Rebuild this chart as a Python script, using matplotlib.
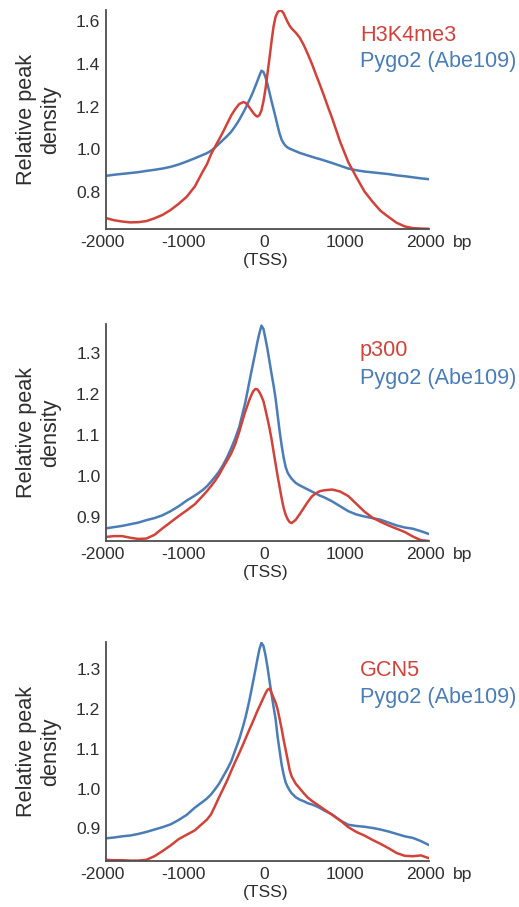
import matplotlib
matplotlib.use("Agg")
import matplotlib.pyplot as plt
from matplotlib.transforms import ScaledTranslation

plt.rcParams['font.family'] = ['Liberation Sans', 'DejaVu Sans']

# Distance from the transcription start site (bp)
x_bp = [-2000, -1900, -1800, -1700, -1600, -1500, -1400, -1300, -1200, -1100, -1000, -900, -800,
        -750, -700, -650, -600, -550, -500, -450, -400, -350, -300,
        -275, -250, -225, -200, -175, -150, -125, -100, -75, -50, -25, 0, 25, 50, 75, 100,
        125, 150, 175, 200, 225, 250, 275,
        300, 350, 400, 450, 500, 550, 600, 650, 700, 750,
        800, 900, 1000, 1100, 1200, 1300, 1400, 1500, 1600, 1700, 1800, 1900, 2000]

# Relative peak density profiles
h3k4me3 = [0.678, 0.668, 0.662, 0.658, 0.659, 0.664, 0.677, 0.693, 0.716, 0.745, 0.778, 0.826, 0.897,
           0.930, 0.976, 1.012, 1.046, 1.082, 1.120, 1.158, 1.188, 1.212, 1.221,
           1.218, 1.210, 1.196, 1.183, 1.170, 1.159, 1.153, 1.160, 1.182, 1.225, 1.282, 1.355,
           1.428, 1.505, 1.575, 1.620, 1.641, 1.650, 1.648, 1.636, 1.615, 1.595, 1.578,
           1.565, 1.546, 1.522, 1.487, 1.445, 1.400, 1.350, 1.301, 1.250, 1.197,
           1.146, 1.035, 0.940, 0.870, 0.803, 0.755, 0.712, 0.683, 0.656, 0.639, 0.631, 0.629, 0.628]

pygo2_vs_h3k4me3 = [0.876, 0.881, 0.885, 0.889, 0.893, 0.899, 0.904, 0.910, 0.918, 0.929, 0.943, 0.958, 0.974,
                    0.982, 0.993, 1.008, 1.026, 1.044, 1.062, 1.082, 1.108, 1.138, 1.172,
                    1.190, 1.210, 1.230, 1.250, 1.272, 1.296, 1.320, 1.345, 1.368, 1.362, 1.338, 1.305,
                    1.265, 1.225, 1.188, 1.150, 1.110, 1.073, 1.045, 1.028, 1.016, 1.008, 1.003,
                    0.999, 0.991, 0.983, 0.977, 0.971, 0.965, 0.959, 0.954, 0.948, 0.942,
                    0.936, 0.923, 0.910, 0.902, 0.896, 0.892, 0.888, 0.884, 0.878, 0.874, 0.869, 0.864, 0.860]

p300 = [0.851, 0.853, 0.853, 0.849, 0.846, 0.847, 0.856, 0.872, 0.887, 0.902, 0.916, 0.931, 0.952,
        0.963, 0.975, 0.988, 1.003, 1.021, 1.038, 1.055, 1.078, 1.108, 1.142,
        1.158, 1.172, 1.186, 1.198, 1.208, 1.213, 1.212, 1.205, 1.195, 1.183, 1.162, 1.140,
        1.117, 1.090, 1.060, 1.030, 1.000, 0.973, 0.946, 0.922, 0.905, 0.894, 0.887,
        0.885, 0.893, 0.907, 0.922, 0.937, 0.950, 0.958, 0.963, 0.965, 0.966,
        0.967, 0.962, 0.951, 0.932, 0.913, 0.898, 0.888, 0.879, 0.871, 0.863, 0.852, 0.843, 0.841]

pygo2_vs_p300 = [0.872, 0.875, 0.878, 0.882, 0.886, 0.892, 0.897, 0.904, 0.914, 0.926, 0.940, 0.952, 0.966,
                 0.975, 0.986, 0.998, 1.011, 1.027, 1.046, 1.068, 1.092, 1.120, 1.160,
                 1.180, 1.205, 1.230, 1.255, 1.279, 1.303, 1.328, 1.350, 1.368, 1.360, 1.336, 1.310,
                 1.280, 1.250, 1.222, 1.190, 1.150, 1.110, 1.075, 1.045, 1.022, 1.008, 1.000,
                 0.993, 0.983, 0.977, 0.972, 0.967, 0.962, 0.957, 0.952, 0.948, 0.943,
                 0.938, 0.926, 0.914, 0.906, 0.901, 0.897, 0.893, 0.886, 0.879, 0.874, 0.871, 0.865, 0.858]

gcn5 = [0.821, 0.820, 0.820, 0.819, 0.819, 0.821, 0.830, 0.843, 0.857, 0.873, 0.884, 0.895, 0.913,
        0.922, 0.935, 0.956, 0.978, 0.999, 1.020, 1.044, 1.067, 1.089, 1.112,
        1.124, 1.136, 1.148, 1.159, 1.171, 1.183, 1.195, 1.206, 1.217, 1.228, 1.239, 1.248,
        1.251, 1.240, 1.228, 1.216, 1.199, 1.175, 1.150, 1.122, 1.097, 1.072, 1.046,
        1.030, 1.012, 1.000, 0.988, 0.977, 0.969, 0.962, 0.955, 0.948, 0.941,
        0.934, 0.920, 0.903, 0.891, 0.882, 0.871, 0.861, 0.850, 0.838, 0.831, 0.830, 0.832, 0.825]

pygo2_vs_gcn5 = [0.875, 0.877, 0.880, 0.882, 0.886, 0.891, 0.897, 0.903, 0.910, 0.921, 0.934, 0.952, 0.967,
                 0.975, 0.985, 0.998, 1.012, 1.030, 1.048, 1.068, 1.096, 1.124, 1.158,
                 1.177, 1.198, 1.221, 1.246, 1.272, 1.298, 1.325, 1.350, 1.366, 1.358, 1.335, 1.305,
                 1.270, 1.237, 1.205, 1.175, 1.130, 1.095, 1.060, 1.035, 1.015, 1.004, 0.995,
                 0.988, 0.978, 0.972, 0.968, 0.963, 0.960, 0.956, 0.951, 0.945, 0.940,
                 0.935, 0.920, 0.909, 0.906, 0.904, 0.901, 0.897, 0.892, 0.886, 0.880, 0.876, 0.868, 0.858]

x_ticks = [-2000, -1000, 0, 1000, 2000]
x_tick_labels = ['-2000', '-1000', '0', '1000', '2000']
mark_names = ['H3K4me3', 'p300', 'GCN5']
pygo2_name = 'Pygo2 (Abe109)'

W, H = 519, 907
fig = plt.figure(figsize=(W / 100, H / 100), dpi=100)

RED = '#d1433a'
BLUE = '#4a7cb6'
AXIS = '#4d4d4d'
TEXT = '#2e2e2e'

# panel geometry in pixels: (top, bottom) of the axes box, y-limits, y-ticks, legend baselines
panels = [
    dict(top=10, bottom=229, ylim=(0.627, 1.652), yticks=[0.8, 1.0, 1.2, 1.4, 1.6],
         red=h3k4me3, blue=pygo2_vs_h3k4me3, legend=(41, 67)),
    dict(top=324, bottom=541, ylim=(0.841, 1.372), yticks=[0.9, 1.0, 1.1, 1.2, 1.3],
         red=p300, blue=pygo2_vs_p300, legend=(356, 384)),
    dict(top=642, bottom=861, ylim=(0.818, 1.368), yticks=[0.9, 1.0, 1.1, 1.2, 1.3],
         red=gcn5, blue=pygo2_vs_gcn5, legend=(676, 703)),
]

left_px, right_px = 106, 429
tick_fs = 12.6
big_fs = 15.6
shift_left = ScaledTranslation(-3.5 / 100, 0, fig.dpi_scale_trans)

for name, p in zip(mark_names, panels):
    rect = [left_px / W, 1 - p['bottom'] / H, (right_px - left_px) / W, (p['bottom'] - p['top']) / H]
    ax = fig.add_axes(rect)
    ax.plot(x_bp, p['blue'], color=BLUE, lw=1.8, solid_capstyle='round')
    ax.plot(x_bp, p['red'], color=RED, lw=1.8, solid_capstyle='round')
    ax.set_xlim(-2000, 2000)
    ax.set_ylim(*p['ylim'])
    ax.set_yticks(p['yticks'])
    ax.set_yticklabels([f'{v:.1f}' for v in p['yticks']])
    ax.set_xticks(x_ticks)
    ax.set_xticklabels(x_tick_labels)
    ax.tick_params(length=0, pad=4, labelsize=tick_fs, labelcolor=TEXT)
    for lab in ax.get_xticklabels():
        lab.set_transform(lab.get_transform() + shift_left)
    for side in ('top', 'right'):
        ax.spines[side].set_visible(False)
    for side in ('left', 'bottom'):
        ax.spines[side].set_color(AXIS)
        ax.spines[side].set_linewidth(1.3)

    ax.annotate('(TSS)', xy=(0, 0), xycoords=('data', 'axes fraction'),
                xytext=(-1.5, -17.5), textcoords='offset points',
                ha='center', va='top', fontsize=tick_fs, color=TEXT)
    ax.annotate('bp', xy=(2000, 0), xycoords=('data', 'axes fraction'),
                xytext=(17.5, -4), textcoords='offset points',
                ha='left', va='top', fontsize=tick_fs, color=TEXT)

    yc = (p['top'] + p['bottom']) / 2
    fig.text(38.5 / W, 1 - yc / H, 'Relative peak\ndensity', rotation=90,
             ha='center', va='center', multialignment='center',
             fontsize=big_fs, color=TEXT)

    fig.text(360 / W, 1 - p['legend'][0] / H, name, color=RED,
             fontsize=big_fs, ha='left', va='baseline')
    fig.text(360 / W, 1 - p['legend'][1] / H, pygo2_name, color=BLUE,
             fontsize=big_fs, ha='left', va='baseline')

fig.savefig('out.png', dpi=100, facecolor='white')
